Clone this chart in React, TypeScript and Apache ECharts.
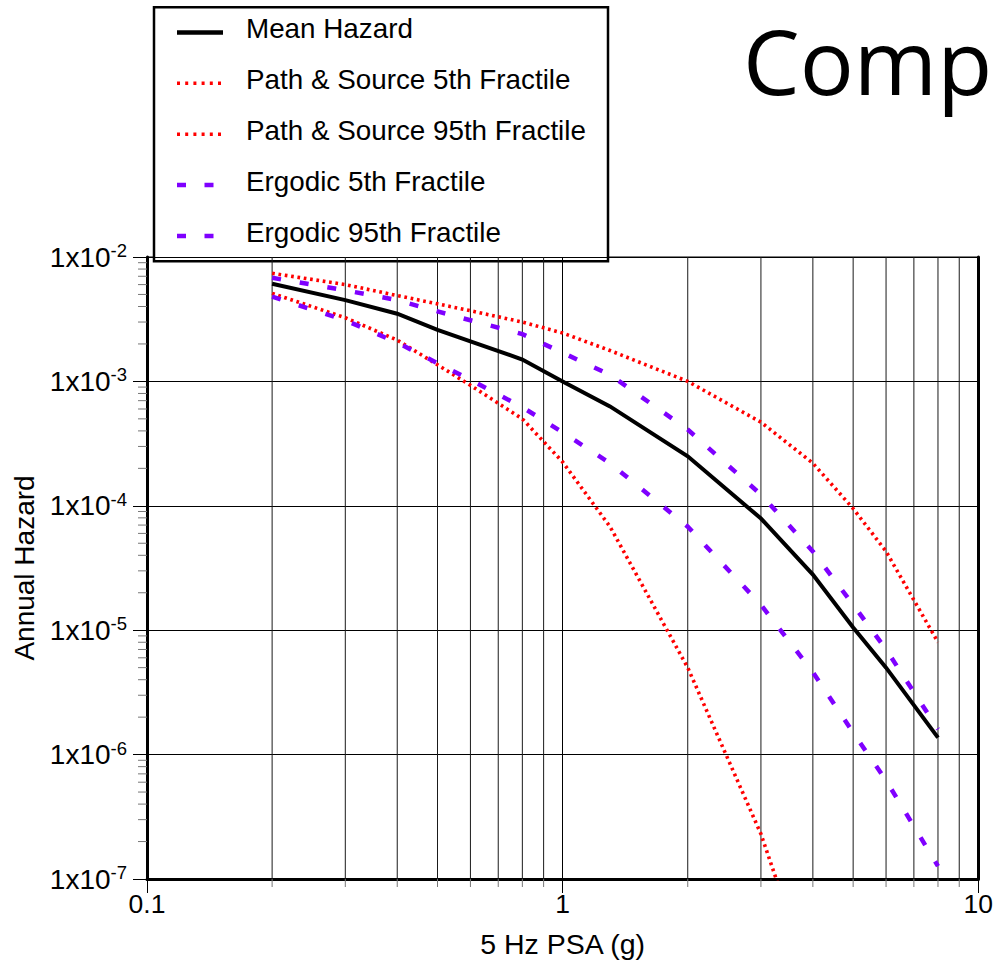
import React, { useEffect, useRef } from "react";
import * as echarts from "echarts";

// ---------- data ----------
const psa = [0.2, 0.3, 0.4, 0.5, 0.6, 0.8, 1.0, 1.3, 2, 3, 4, 5, 6, 8];
const meanHazard = [6.1e-3, 4.5e-3, 3.5e-3, 2.6e-3, 2.1e-3, 1.5e-3, 1.0e-3, 6.3e-4, 2.5e-4, 7.9e-5, 2.8e-5, 1.05e-5, 5.0e-6, 1.37e-6];
const psSource95 = [7.4e-3, 6.0e-3, 4.9e-3, 4.2e-3, 3.7e-3, 3.0e-3, 2.45e-3, 1.77e-3, 1.0e-3, 4.7e-4, 2.2e-4, 9.5e-5, 4.3e-5, 8.0e-6];
const ergodic95 = [6.8e-3, 5.4e-3, 4.5e-3, 3.65e-3, 3.1e-3, 2.4e-3, 1.7e-3, 1.13e-3, 4.1e-4, 1.23e-4, 4.3e-5, 1.6e-5, 7.0e-6, 1.6e-6];
const ergodic5 = [4.8e-3, 3.1e-3, 2.05e-3, 1.4e-3, 1.03e-3, 6.2e-4, 3.9e-4, 2.2e-4, 6.8e-5, 1.6e-5, 4.6e-6, 1.5e-6, 6.2e-7, 1.27e-7];
const psaSource5 = [0.2, 0.3, 0.4, 0.5, 0.6, 0.8, 1.0, 1.3, 2, 3, 3.3];
const psSource5 = [5.1e-3, 3.25e-3, 2.15e-3, 1.36e-3, 9.3e-4, 5.0e-4, 2.25e-4, 6.8e-5, 5.0e-6, 2.3e-7, 9e-8];

const seriesNames = [
  "Mean Hazard",
  "Path & Source 5th Fractile",
  "Path & Source 95th Fractile",
  "Ergodic 5th Fractile",
  "Ergodic 95th Fractile",
];

const xMin = 0.1;
const xMax = 10;
const yMin = 1e-7;
const yMax = 1e-2;
const minorX = [0.2, 0.3, 0.4, 0.5, 0.6, 0.7, 0.8, 0.9, 2, 3, 4, 5, 6, 7, 8, 9];
const minorYMantissa = [2, 3, 4, 5, 6, 7, 8, 9];
const yDecades = [-7, -6, -5, -4, -3];

const titleText = "Comp";
const xAxisName = "5 Hz PSA (g)";
const yAxisName = "Annual Hazard";

// ---------- styles ----------
const FONT = '"Liberation Sans", Arial, Helvetica, sans-serif';
const RED = "#ff0000";
const PURPLE = "#7f00ff";

const styles = [
  { color: "#000000", width: 4, type: "solid" as any },
  { color: RED, width: 3.6, type: [2.7, 3.7] },
  { color: RED, width: 3.6, type: [2.7, 3.7] },
  { color: PURPLE, width: 4.5, type: [9, 19] },
  { color: PURPLE, width: 4.5, type: [9, 19] },
];
const legendDash: any[] = [null, [3, 5.2], [3, 5.2], [9, 18.5], [9, 18.5]];

function pairs(xs: number[], ys: number[]) {
  return xs.map((x, i) => [x, ys[i]]);
}

export default function App() {
  const ref = useRef<HTMLDivElement>(null);

  useEffect(() => {
    if (!ref.current) return;
    const chart = echarts.init(ref.current, undefined, { renderer: "svg" });

    const minorY: number[] = [];
    yDecades.forEach((d) => minorYMantissa.forEach((m) => minorY.push(m * Math.pow(10, d))));

    const seriesData = [
      pairs(psa, meanHazard),
      pairs(psaSource5, psSource5),
      pairs(psa, psSource95),
      pairs(psa, ergodic5),
      pairs(psa, ergodic95),
    ];

    const lineSeries = seriesData.map((d, i) => ({
      type: "line",
      name: seriesNames[i],
      data: d,
      showSymbol: false,
      symbol: "none",
      clip: true,
      z: i === 0 ? 6 : 4,
      lineStyle: {
        color: styles[i].color,
        width: styles[i].width,
        type: styles[i].type,
        cap: "butt",
        join: "miter",
      },
      emphasis: { disabled: true },
    }));

    const legendX0 = 177;
    const legendX1 = 223;
    const legendRow0 = 32.4;
    const legendStep = 50.9;
    const legendChildren: any[] = [
      {
        type: "rect",
        shape: { x: 154, y: 7.3, width: 454, height: 254 },
        style: { fill: "#ffffff", stroke: "#000000", lineWidth: 2.5 },
      },
    ];
    seriesNames.forEach((name, i) => {
      const yy = legendRow0 + legendStep * i;
      legendChildren.push({
        type: "line",
        shape: { x1: legendX0, y1: yy, x2: legendX1, y2: yy },
        style: {
          stroke: styles[i].color,
          lineWidth: i === 0 ? 4.5 : styles[i].width,
          lineDash: legendDash[i],
          lineCap: "butt",
        },
      });
      legendChildren.push({
        type: "text",
        x: 246,
        y: yy - 3.9,
        style: {
          text: name,
          fontSize: 27.8,
          fontFamily: FONT,
          fill: "#000000",
          align: "left",
          verticalAlign: "middle",
        },
      });
    });

    const option: any = {
      animation: false,
      backgroundColor: "#ffffff",
      textStyle: { fontFamily: FONT, color: "#000" },
      grid: {
        left: 147,
        right: 16,
        top: 257,
        bottom: 81,
        show: true,
        borderColor: "#000",
        borderWidth: 1,
        backgroundColor: "transparent",
      },
      xAxis: {
        type: "log",
        logBase: 10,
        min: xMin,
        max: xMax,
        name: xAxisName,
        nameLocation: "middle",
        nameGap: 50,
        nameTextStyle: { fontSize: 28.5, color: "#000", fontFamily: FONT },
        axisLine: { show: true, onZero: false, lineStyle: { color: "#000", width: 3 } },
        axisTick: { show: true, length: 14, lineStyle: { color: "#000", width: 1 } },
        axisLabel: {
          fontSize: 26.5,
          color: "#000",
          margin: 11,
          fontFamily: FONT,
          formatter: (v: number) => String(+v.toPrecision(3)),
        },
        splitLine: { show: true, lineStyle: { color: "#000", width: 1 } },
        minorTick: { show: false },
      },
      yAxis: [
        {
          type: "log",
          logBase: 10,
          min: yMin,
          max: yMax,
          name: yAxisName,
          nameLocation: "middle",
          nameGap: 106,
          nameRotate: 90,
          nameTextStyle: { fontSize: 28, color: "#000", fontFamily: FONT },
          axisLine: { show: true, onZero: false, lineStyle: { color: "#000", width: 3 } },
          axisTick: { show: true, length: 14, lineStyle: { color: "#000", width: 1 } },
          axisLabel: {
            margin: 20,
            color: "#000",
            formatter: (v: number) => `{b|1x10}{s|${Math.round(Math.log10(v))}}`,
            rich: {
              b: { fontSize: 28, fontFamily: FONT, color: "#000", lineHeight: 32 },
              s: { fontSize: 18.5, fontFamily: FONT, color: "#000", lineHeight: 22, verticalAlign: "top" },
            },
          },
          splitLine: { show: true, lineStyle: { color: "#000", width: 1 } },
        },
        {
          type: "log",
          logBase: 10,
          min: yMin,
          max: yMax,
          position: "right",
          axisLine: { show: true, onZero: false, lineStyle: { color: "#000", width: 3 } },
          axisTick: { show: false },
          axisLabel: { show: false },
          splitLine: { show: false },
        },
      ],
      series: [
        {
          type: "custom",
          name: "minor-x",
          coordinateSystem: "cartesian2d",
          xAxisIndex: 0,
          yAxisIndex: 0,
          clip: false,
          silent: true,
          z: 1,
          data: minorX.map((v) => [v, yMin]),
          renderItem: (_p: any, api: any) => {
            const v = api.value(0);
            const top = api.coord([v, yMax]);
            const bot = api.coord([v, yMin]);
            return {
              type: "group",
              children: [
                {
                  type: "line",
                  shape: { x1: top[0], y1: top[1], x2: bot[0], y2: bot[1] },
                  style: { stroke: "#1a1a1a", lineWidth: 1 },
                },
                {
                  type: "line",
                  shape: { x1: bot[0], y1: bot[1], x2: bot[0], y2: bot[1] + 8 },
                  style: { stroke: "#777", lineWidth: 1 },
                },
              ],
            };
          },
        },
        {
          type: "custom",
          name: "minor-y",
          coordinateSystem: "cartesian2d",
          xAxisIndex: 0,
          yAxisIndex: 0,
          clip: false,
          silent: true,
          z: 1,
          data: minorY.map((v) => [xMin, v]),
          renderItem: (_p: any, api: any) => {
            const p = api.coord([xMin, api.value(1)]);
            return {
              type: "line",
              shape: { x1: p[0] - 9, y1: p[1], x2: p[0], y2: p[1] },
              style: { stroke: "#777", lineWidth: 1 },
            };
          },
        },
        ...lineSeries,
      ],
      graphic: [
        {
          type: "text",
          x: 743,
          y: 60,
          z: 100,
          style: {
            text: titleText,
            fontSize: 90,
            fontFamily: '"Open Sans", "Noto Sans", sans-serif',
            fill: "#000",
            align: "left",
            verticalAlign: "middle",
          },
        },
        {
          type: "group",
          z: 100,
          children: legendChildren,
        },
      ],
    };

    chart.setOption(option);
    return () => chart.dispose();
  }, []);

  return (
    <div
      ref={ref}
      style={{ position: "absolute", left: 0, top: 0, width: 996, height: 963, background: "#fff" }}
    />
  );
}
